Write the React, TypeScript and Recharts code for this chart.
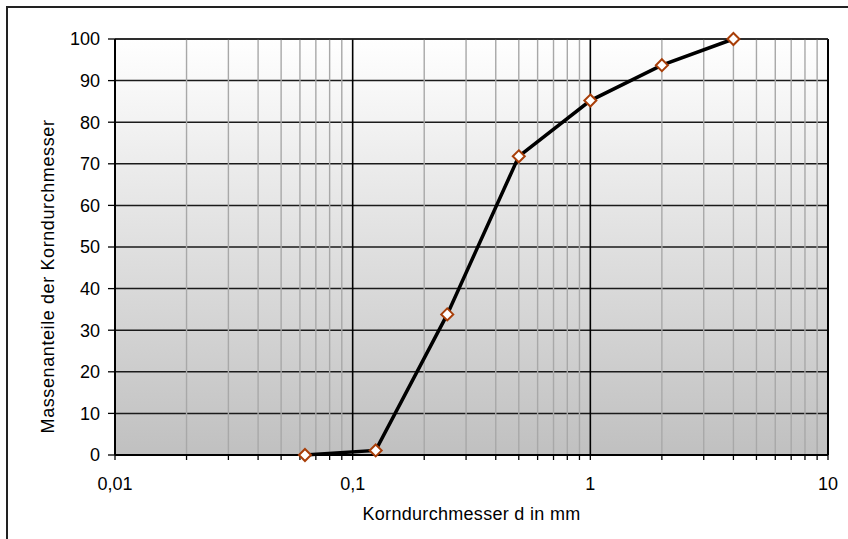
import React from "react";
import {
  ComposedChart,
  Line,
  XAxis,
  YAxis,
  CartesianGrid,
  ReferenceLine,
} from "recharts";

// Korndurchmesser d in mm
const grainSizes = [0.063, 0.125, 0.25, 0.5, 1, 2, 4];
// Massenanteile (Siebdurchgang) in %
const passing = [0, 1.1, 33.8, 71.8, 85.2, 93.7, 100];

const xMajorTicks = [0.01, 0.1, 1, 10];
const xMinorTicks = [
  0.02, 0.03, 0.04, 0.05, 0.06, 0.07, 0.08, 0.09,
  0.2, 0.3, 0.4, 0.5, 0.6, 0.7, 0.8, 0.9,
  2, 3, 4, 5, 6, 7, 8, 9,
];
const yTicks = [0, 10, 20, 30, 40, 50, 60, 70, 80, 90, 100];

const data = grainSizes.map((d, i) => ({ d, p: passing[i] }));
const allXTicks = [...xMajorTicks, ...xMinorTicks].sort((a, b) => a - b);

const FONT = "Arial, 'Liberation Sans', sans-serif";

const fmtX = (v: number) =>
  xMajorTicks.includes(v) ? String(v).replace(".", ",") : "";

const Diamond = (props: any) => {
  const { cx, cy, index } = props;
  if (cx == null || cy == null) return <g key={`d${index}`} />;
  const r = 6;
  return (
    <path
      key={`d${index}`}
      d={`M${cx},${cy - r}L${cx + r},${cy}L${cx},${cy + r}L${cx - r},${cy}Z`}
      fill="#ffffff"
      stroke="#a83e08"
      strokeWidth={2}
    />
  );
};

export default function App() {
  return (
    <div
      style={{
        position: "fixed",
        left: 0,
        top: 0,
        width: 848,
        height: 539,
        overflow: "hidden",
        background: "#ffffff",
      }}
    >
      <svg width={0} height={0} style={{ position: "absolute" }}>
        <defs>
          <linearGradient id="plotBg" x1="0" y1="0" x2="0" y2="1">
            <stop offset="0%" stopColor="#ffffff" />
            <stop offset="100%" stopColor="#c0c0c0" />
          </linearGradient>
        </defs>
      </svg>
      <div
        style={{
          position: "absolute",
          left: 6,
          top: 6,
          width: 900,
          height: 600,
          border: "2px solid #222",
        }}
      />
      <div style={{ position: "absolute", left: 0, top: 0 }}>
        <ComposedChart
          width={848}
          height={539}
          data={data}
          margin={{ top: 39, right: 20, bottom: 0, left: 0 }}
        >
          <CartesianGrid
            vertical={false}
            horizontal={true}
            stroke="#1a1a1a"
            strokeWidth={1.5}
            fill="url(#plotBg)"
          />
          {xMinorTicks.map((v) => (
            <ReferenceLine
              key={`m${v}`}
              x={v}
              stroke="#a8a8a8"
              strokeWidth={1.4}
            />
          ))}
          <ReferenceLine x={0.1} stroke="#000" strokeWidth={1.6} />
          <ReferenceLine x={1} stroke="#000" strokeWidth={1.6} />
          <ReferenceLine x={10} stroke="#000" strokeWidth={2} />
          <ReferenceLine y={100} stroke="#222" strokeWidth={1.6} />
          <XAxis
            dataKey="d"
            type="number"
            scale="log"
            domain={[0.01, 10]}
            ticks={allXTicks}
            tickFormatter={fmtX}
            interval={0}
            allowDataOverflow
            height={84}
            tickSize={5}
            tickMargin={17}
            axisLine={{ stroke: "#000", strokeWidth: 2 }}
            tickLine={{ stroke: "#000", strokeWidth: 1.3 }}
            tick={{ fill: "#000", fontSize: 18, fontFamily: FONT }}
            label={{
              content: (p: any) => {
                const vb = p.viewBox || {};
                return (
                  <text
                    x={vb.x + vb.width / 2}
                    y={520}
                    textAnchor="middle"
                    fill="#000"
                    fontSize={18}
                    fontFamily={FONT}
                    letterSpacing={0.3}
                  >
                    Korndurchmesser d in mm
                  </text>
                );
              },
            }}
          />
          <YAxis
            type="number"
            domain={[0, 100]}
            ticks={yTicks}
            interval={0}
            width={115}
            tickSize={7}
            tickMargin={8}
            axisLine={{ stroke: "#000", strokeWidth: 2 }}
            tickLine={{ stroke: "#000", strokeWidth: 1.3 }}
            tick={{ fill: "#000", fontSize: 18, fontFamily: FONT }}
            label={{
              content: () => (
                <text
                  x={54}
                  y={276.5}
                  transform="rotate(-90 54 276.5)"
                  textAnchor="middle"
                  fill="#000"
                  fontSize={18}
                  fontFamily={FONT}
                  letterSpacing={0.6}
                >
                  Massenanteile der Korndurchmesser
                </text>
              ),
            }}
          />
          <Line
            type="linear"
            dataKey="p"
            stroke="#000"
            strokeWidth={3.5}
            dot={Diamond}
            activeDot={false}
            isAnimationActive={false}
          />
        </ComposedChart>
      </div>
    </div>
  );
}
